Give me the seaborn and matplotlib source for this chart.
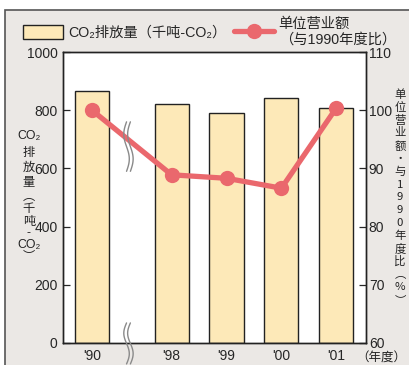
import matplotlib
matplotlib.use('Agg')
import matplotlib.pyplot as plt
import numpy as np
import pandas as pd
import seaborn as sns
from matplotlib.lines import Line2D
from matplotlib.patches import Patch, Rectangle

sns.set_style("white")
plt.rcParams['font.family'] = ['Liberation Sans', 'Noto Sans CJK SC', 'DejaVu Sans']

# data
years = ["'90", "'98", "'99", "'00", "'01"]
xpos = [0, 1.45, 2.45, 3.45, 4.45]   # gap after '90 (axis break)
co2 = [866, 821, 792, 842, 808]
ratio = [100.0, 88.9, 88.3, 86.6, 100.4]

bar_col = "#fde9b8"
line_col = "#ea686d"
bg_col = "#ebe8e5"
cjk = ["Liberation Sans", "Noto Sans CJK SC", "DejaVu Sans"]

df = pd.DataFrame({"x": xpos, "co2": co2, "ratio": ratio})

fig = plt.figure(figsize=(4.1, 3.65), dpi=100, facecolor="white")
fig.add_artist(Rectangle((5 / 410, -0.1), 1.2, 355 / 365 + 0.1, transform=fig.transFigure,
                         facecolor=bg_col, edgecolor="#555555", linewidth=1.2, zorder=-10))
ax = fig.add_axes([63 / 410, 22 / 365, 303 / 410, 291 / 365])
ax.set_facecolor("white")

sns.barplot(data=df, x="x", y="co2", native_scale=True, width=0.62, color=bar_col,
            saturation=1, edgecolor="#222222", linewidth=1.0, ax=ax)
ax.set_xlim(-0.527, 4.99)
ax.set_ylim(0, 1000)
ax.set_yticks(range(0, 1001, 200))
ax.set_xticks(xpos, years)
ax.set_xlabel("")
ax.set_ylabel("")
ax.tick_params(axis="x", length=0, pad=4, labelsize=10)
ax.tick_params(axis="y", direction="in", length=5, width=0.9, pad=4, labelsize=10)
for s in ax.spines.values():
    s.set_color("#222222")
    s.set_linewidth(1.0)

ax2 = ax.twinx()
sns.lineplot(data=df, x="x", y="ratio", color=line_col, linewidth=3.8, marker="o",
             markersize=11, markeredgewidth=0, ax=ax2)
ax2.set_ylim(60, 110)
ax2.set_yticks(range(60, 111, 10))
ax2.set_ylabel("")
ax2.tick_params(axis="y", direction="in", length=5, width=0.9, pad=2, labelsize=10)
for s in ax2.spines.values():
    s.set_color("#222222")
    s.set_linewidth(1.0)

# axis-break squiggles between '90 and '98
xb = (xpos[0] + xpos[1]) / 2 - 0.06
tb = ax2.get_xaxis_transform()
for y0, y1 in [(0.069, -0.072), (0.76, 0.59)]:
    yy = np.linspace(y1, y0, 60)
    wav = 0.05 * np.sin((yy - y1) / (y0 - y1) * 2 * np.pi)
    for dx in (-0.035, 0.035):
        ax2.plot(xb + dx + wav, yy, transform=tb, color="#8a8a8a", lw=1.0, clip_on=False, zorder=5)

# legend
handles = [Patch(facecolor=bar_col, edgecolor="#222222", linewidth=1.0),
           Line2D([], [], color=line_col, lw=3.8, marker="o", markersize=11, markeredgewidth=0)]
labels = ["CO₂排放量（千吨-CO₂）", "单位营业额\n（与1990年度比）"]
fig.legend(handles, labels, loc="upper left", bbox_to_anchor=(0.025, 0.99), ncol=2,
           frameon=False, handlelength=2.8, handleheight=1.1,
           columnspacing=0.5, handletextpad=0.35, labelspacing=0.1,
           prop={"family": cjk, "size": 10.3})

# vertical axis titles, one character per row
left_chars = ["CO₂", "排", "放", "量", "︵", "千", "吨", "-", "CO₂", "︶"]
left_y = [136, 153, 168, 183, 197, 209, 222, 233, 245, 257]
for ch, yp in zip(left_chars, left_y):
    fig.text(29 / 410, 1 - yp / 365, ch, ha="center", va="center", fontsize=8.8,
             color="#222222", family=cjk)

right_chars = list("单位营业额・与1990年度比") + ["︵", "%", "︶"]
for i, ch in enumerate(right_chars):
    yp = 95 + i * 12.8
    fig.text(400 / 410, 1 - yp / 365, ch, ha="center", va="center", fontsize=8.2,
             color="#222222", family=["Noto Sans CJK SC", "DejaVu Sans"])

fig.text(381 / 410, 1 - 358 / 365, "（年度）", ha="center", va="center", fontsize=9,
         color="#222222", family=["Noto Sans CJK SC", "DejaVu Sans"])

fig.savefig("out.png", dpi=100, facecolor=fig.get_facecolor())
